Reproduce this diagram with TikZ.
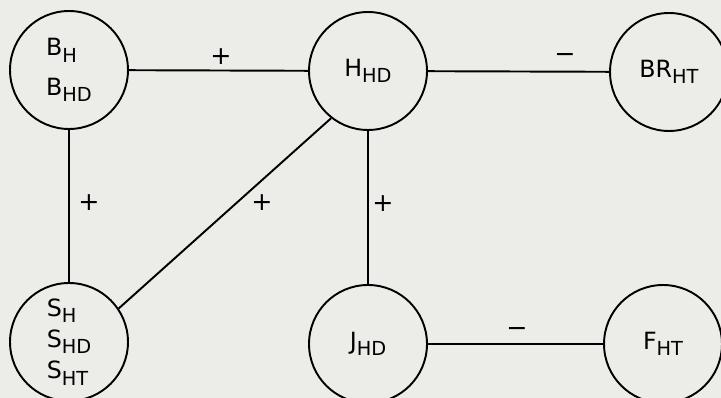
\documentclass[tikz,border=0pt]{standalone}
\usepackage{fontspec}
\setmainfont{DejaVu Sans}
\definecolor{paper}{RGB}{236,236,232}
\newcommand{\lowsub}[1]{\raisebox{-3.6pt}{\fontsize{11}{13}\selectfont #1}}

\begin{document}
\begin{tikzpicture}[x=0.02cm, y=-0.02cm, every node/.style={font=\fontsize{13.5}{16}\selectfont}, state/.style={draw, circle, line width=1.1pt, minimum size=2.36cm, inner sep=0pt, align=left}, link/.style={line width=1.1pt}, sign/.style={font=\Large}]
\fill[paper] (0,0) rectangle (721,398);
\useasboundingbox (0,0) rectangle (721,398);
\node[state] (b) at (69,70) {B\lowsub{H}\\[0.22cm]B\lowsub{HD}};
\node[state] (hhd) at (368,71) {H\lowsub{HD}};
\node[state] (brht) at (669,72) {BR\lowsub{HT}};
\node[state] (s) at (69,342) {S\lowsub{H}\\[0.06cm]S\lowsub{HD}\\[0.06cm]S\lowsub{HT}};
\node[state] (jhd) at (368,344) {J\lowsub{HD}};
\node[state] (fht) at (663,344) {F\lowsub{HT}};
\draw[link] (b) -- (hhd); \draw[link] (hhd) -- (brht);
\draw[link] (b) -- (s); \draw[link] (hhd) -- (jhd);
\draw[link] (hhd.232) -- (s.34); \draw[link] (jhd) -- (fht);
\node[sign] (p1) at (221,57) {+};
\node[sign] (m1) at (565,58) {−};
\node[sign] (p2) at (89,203) {+};
\node[sign] (p3) at (262,203) {+};
\node[sign] (p4) at (383,204) {+};
\node[sign] (m2) at (517,332) {−};
\end{tikzpicture}
\end{document}
